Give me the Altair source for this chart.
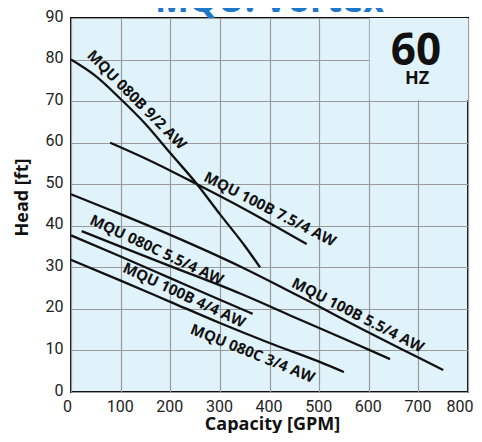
import altair as alt
import pandas as pd

# ---- data ----
series_names = ["MQU 080B 9/2 AW", "MQU 100B 7.5/4 AW", "MQU 100B 5.5/4 AW",
                "MQU 080C 5.5/4 AW", "MQU 100B 4/4 AW", "MQU 080C 3/4 AW"]
s1_gpm = [0, 50, 100, 150, 200, 254, 300, 350, 381]
s1_head = [80, 76, 70.5, 64.5, 57.5, 50, 42.8, 35.2, 30]
s2_gpm = [79, 150, 254, 350, 475]
s2_head = [60, 56.2, 50, 44, 35.6]
s3_gpm = [0, 79, 200, 341, 462, 600, 700, 750]
s3_head = [47.6, 43.8, 37.8, 30.2, 22.9, 14.3, 8.3, 5.3]
s4_gpm = [21.5, 100, 200, 341, 450, 550, 643]
s4_head = [38.7, 35.0, 30.3, 23.7, 18.0, 12.8, 7.9]
s5_gpm = [0, 100, 200, 300, 366]
s5_head = [37.7, 32.6, 27.4, 22.2, 18.8]
s6_gpm = [0, 100, 200, 300, 400, 500, 550]
s6_head = [31.8, 26.8, 21.7, 16.6, 11.8, 7.3, 4.8]

label_text = series_names
label_gpm = [132.5, 401, 578, 172.7, 228, 366]
label_head = [70.3, 44.0, 18.5, 34.2, 23.3, 9.3]
label_angle = [45, 27, 27, 25, 25, 22]

x_ticks = [0, 100, 200, 300, 400, 500, 600, 700, 800]
y_ticks = [0, 10, 20, 30, 40, 50, 60, 70, 80, 90]

title_text = ["MQU: Vortex"]
hz_big = ["60"]
hz_small = ["HZ"]

# panel mask behind the "60 HZ" badge (in data units)
mask_x, mask_x2, mask_y, mask_y2 = [602], [800], [70.2], [90]

# ---- build tables ----
rows = []
for name, xs, ys in zip(series_names,
                        [s1_gpm, s2_gpm, s3_gpm, s4_gpm, s5_gpm, s6_gpm],
                        [s1_head, s2_head, s3_head, s4_head, s5_head, s6_head]):
    for i, (x, y) in enumerate(zip(xs, ys)):
        rows.append({"series": name, "gpm": x, "head": y, "i": i})
curves = pd.DataFrame(rows)
labels = pd.DataFrame({"text": label_text, "gpm": label_gpm,
                       "head": label_head, "angle": label_angle})
mask = pd.DataFrame({"x": mask_x, "x2": mask_x2, "y": mask_y, "y2": mask_y2})

W, H = 397, 374
BG = "#e0f2fa"
xs_ = alt.Scale(domain=[0, 800], nice=False, zero=False)
ys_ = alt.Scale(domain=[0, 90], nice=False)

x_axis = alt.Axis(values=x_ticks, grid=True, gridColor="#9a9a9a", gridWidth=1.2,
                  domain=False, ticks=False, labelFont="Roboto", labelFontSize=16,
                  labelColor="#222", labelPadding=6, labelFlush=False,
                  labelAlign={"expr": "datum.value == 800 ? 'right' : 'center'"},
                  labelOffset={"expr": "datum.value == 800 ? 5 : (datum.value == 0 ? -4 : -1)"},
                  title="Capacity [GPM]", titleFont="Open Sans", titleFontWeight="bold",
                  titleFontSize=18, titleColor="#111", titleX=201, titleY=37,
                  titleAlign="center", titleBaseline="alphabetic")
y_axis = alt.Axis(values=y_ticks, grid=True, gridColor="#9a9a9a", gridWidth=1.2,
                  domain=False, ticks=False, labelFont="Roboto", labelFontSize=16,
                  labelColor="#222", labelPadding=8, labelOffset=-2, labelFlush=False,
                  title="Head [ft]", titleFont="Open Sans", titleFontWeight="bold",
                  titleFontSize=18, titleColor="#111", titleX=-49, titleY=179,
                  titleAlign="center", titleBaseline="middle", titleAngle=270)

lines = alt.Chart(curves).mark_line(color="#111", strokeWidth=2.3,
                                    interpolate="monotone").encode(
    x=alt.X("gpm:Q", scale=xs_, axis=x_axis),
    y=alt.Y("head:Q", scale=ys_, axis=y_axis),
    detail="series:N",
    order="i:Q",
)

mask_layer = alt.Chart(mask).mark_rect(fill=BG, stroke=None).encode(
    x=alt.X("x:Q", scale=xs_), x2="x2:Q",
    y=alt.Y("y:Q", scale=ys_), y2="y2:Q",
)

label_layer = alt.Chart(labels).mark_text(
    font="Open Sans", fontWeight="bold", fontSize=15, color="#111",
    align="center", baseline="middle").encode(
    x=alt.X("gpm:Q", scale=xs_), y=alt.Y("head:Q", scale=ys_),
    text="text:N", angle=alt.Angle("angle:Q", scale=None),
)

title_layer = alt.Chart(pd.DataFrame({"t": title_text})).mark_text(
    font="Open Sans", fontWeight="bold", fontSize=36, color="#1f77c9",
    align="center", baseline="alphabetic").encode(
    text="t:N", x=alt.value(W / 2), y=alt.value(-6))

big_layer = alt.Chart(pd.DataFrame({"t": hz_big})).mark_text(
    font="Open Sans", fontWeight="bold", fontSize=44, color="#111",
    align="center", baseline="alphabetic").encode(
    text="t:N", x=alt.value(345), y=alt.value(47))

small_layer = alt.Chart(pd.DataFrame({"t": hz_small})).mark_text(
    font="Open Sans", fontWeight="bold", fontSize=18, color="#111",
    align="center", baseline="alphabetic").encode(
    text="t:N", x=alt.value(346), y=alt.value(65.5))

chart = alt.layer(mask_layer, lines, label_layer, title_layer, big_layer, small_layer).properties(
    width=W, height=H,
    padding={"left": 63, "top": 10, "right": 6, "bottom": 41},
    autosize=alt.AutoSizeParams(type="none"),
).configure_view(fill=BG, stroke="#111", strokeWidth=2)

chart.save("out.html", embed_options={"renderer": "svg", "actions": False})
